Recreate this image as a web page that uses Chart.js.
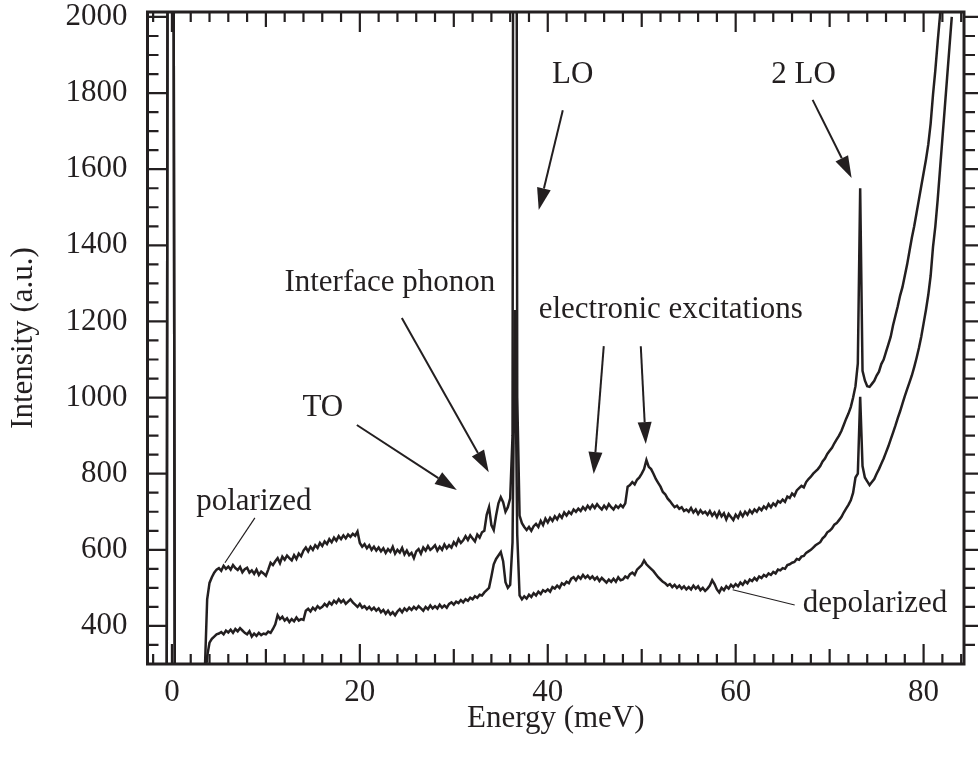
<!DOCTYPE html>
<html><head><meta charset="utf-8">
<script src="https://cdn.jsdelivr.net/npm/chart.js@4/dist/chart.umd.min.js"></script>
<style>html,body{margin:0;padding:0;background:#fff}#wrap{width:978px;height:767px}</style>
</head><body><div id="wrap"><canvas id="c" width="978" height="767"></canvas></div>
<script>
// ---- data ----
const laserEnergy = [-0.55, -0.2, 0.3];
const laserPolarized = [300, 8000, 300];
const laserDepolarized = [300, 8000, 300];

const energy = [
3.5, 3.75,
4, 4.25, 4.5, 4.75, 5, 5.25, 5.5, 5.75, 6, 6.25, 6.5, 6.75, 7, 7.25, 7.5, 7.75,
8, 8.25, 8.5, 8.75, 9, 9.25, 9.5, 9.75, 10, 10.25, 10.5, 10.75, 11, 11.25, 11.5, 11.75,
12, 12.25, 12.5, 12.75, 13, 13.25, 13.5, 13.75, 14, 14.25, 14.5, 14.75, 15, 15.25, 15.5, 15.75,
16, 16.25, 16.5, 16.75, 17, 17.25, 17.5, 17.75, 18, 18.25, 18.5, 18.75, 19, 19.25, 19.5, 19.75,
20, 20.25, 20.5, 20.75, 21, 21.25, 21.5, 21.75, 22, 22.25, 22.5, 22.75, 23, 23.25, 23.5, 23.75,
24, 24.25, 24.5, 24.75, 25, 25.25, 25.5, 25.75, 26, 26.25, 26.5, 26.75, 27, 27.25, 27.5, 27.75,
28, 28.25, 28.5, 28.75, 29, 29.25, 29.5, 29.75, 30, 30.25, 30.5, 30.75, 31, 31.25, 31.5, 31.75,
32, 32.25, 32.5, 32.75, 33, 33.25, 33.5, 33.75, 34, 34.25, 34.5, 34.75, 35, 35.25, 35.5, 35.75,
36, 36.25, 36.5, 36.75, 37, 37.25, 37.5, 37.75, 38, 38.25, 38.5, 38.75, 39, 39.25, 39.5, 39.75,
40, 40.25, 40.5, 40.75, 41, 41.25, 41.5, 41.75, 42, 42.25, 42.5, 42.75, 43, 43.25, 43.5, 43.75,
44, 44.25, 44.5, 44.75, 45, 45.25, 45.5, 45.75, 46, 46.25, 46.5, 46.75, 47, 47.25, 47.5, 47.75,
48, 48.25, 48.5, 48.75, 49, 49.25, 49.5, 49.75, 50, 50.25, 50.5, 50.75, 51, 51.25, 51.5, 51.75,
52, 52.25, 52.5, 52.75, 53, 53.25, 53.5, 53.75, 54, 54.25, 54.5, 54.75, 55, 55.25, 55.5, 55.75,
56, 56.25, 56.5, 56.75, 57, 57.25, 57.5, 57.75, 58, 58.25, 58.5, 58.75, 59, 59.25, 59.5, 59.75,
60, 60.25, 60.5, 60.75, 61, 61.25, 61.5, 61.75, 62, 62.25, 62.5, 62.75, 63, 63.25, 63.5, 63.75,
64, 64.25, 64.5, 64.75, 65, 65.25, 65.5, 65.75, 66, 66.25, 66.5, 66.75, 67, 67.25, 67.5, 67.75,
68, 68.25, 68.5, 68.75, 69, 69.25, 69.5, 69.75, 70, 70.25, 70.5, 70.75, 71, 71.25, 71.5, 71.75,
72, 72.25, 72.5, 72.75, 73, 73.25, 73.5, 73.75, 74, 74.25, 74.5, 74.75, 75, 75.25, 75.5, 75.75,
76, 76.25, 76.5, 76.75, 77, 77.25, 77.5, 77.75, 78, 78.25, 78.5, 78.75, 79, 79.25, 79.5, 79.75,
80, 80.25, 80.5, 80.75, 81, 81.25, 81.5, 81.75, 82, 82.25, 82.5, 82.75,
83
];

const polarized = [
280, 470,
513, 528, 540, 548, 552, 545, 558, 550, 556, 548, 560, 552, 547, 555, 541, 549,
553, 540, 546, 537, 548, 534, 543, 538, 532, 548, 566, 560, 570, 578, 565, 582,
574, 585, 578, 572, 586, 576, 590, 583, 598, 606, 596, 608, 600, 612, 605, 618,
610, 622, 615, 628, 620, 632, 624, 636, 628, 638, 630, 640, 634, 642, 637, 648,
618, 608, 615, 604, 612, 600, 608, 598, 606, 596, 604, 592, 602, 595, 608, 590,
600, 593, 605, 588, 598, 586, 592, 578, 596, 602, 590, 606, 598, 610, 600, 605,
612, 598, 608, 600, 614, 604, 612, 606, 620, 612, 628, 618, 625, 636, 626, 638,
630, 622, 640, 632, 646, 650, 692, 712, 665, 652, 690, 722, 738, 725, 700, 712,
735, 900, 6000, 1000, 690, 670, 660, 652, 660, 650, 662, 668, 660, 676, 665, 682,
672, 684, 676, 688, 680, 692, 684, 698, 690, 700, 694, 706, 700, 708, 702, 712,
705, 716, 708, 718, 710, 720, 712, 706, 716, 708, 720, 712, 706, 716, 710, 718,
712, 722, 766, 770, 778, 772, 784, 790, 800, 812, 836, 818, 812, 800, 786, 776,
766, 752, 746, 735, 728, 720, 712, 716, 708, 712, 702, 706, 700, 710, 698, 706,
694, 704, 696, 700, 692, 702, 690, 698, 686, 700, 688, 696, 680, 694, 686, 678,
692, 684, 698, 688, 700, 692, 704, 696, 706, 700, 710, 704, 714, 708, 720, 712,
722, 716, 728, 724, 732, 726, 740, 736, 748, 742, 756, 762, 768, 764, 778, 786,
792, 800, 806, 812, 820, 832, 840, 852, 860, 868, 880, 890, 900, 912, 928, 944,
958, 975, 1000, 1030, 1090, 1550, 1070, 1045, 1030, 1028, 1036, 1044, 1058, 1068, 1088, 1100,
1120, 1140, 1160, 1190, 1215, 1240, 1268, 1290, 1320, 1350, 1385, 1420, 1450, 1485, 1520, 1555,
1590, 1625, 1665, 1720, 1795, 1860, 1935, 2005, 2080, 2160, 2250, 2350,
2450
];

const depolarized = [
250, 320,
356, 366, 372, 378, 380, 384, 378, 388, 383, 390, 382, 392, 386, 394, 388, 382,
378, 386, 372, 380, 374, 382, 376, 380, 378, 385, 382, 392, 404, 428, 418, 424,
414, 420, 410, 418, 412, 422, 414, 418, 416, 440, 445, 438, 448, 442, 452, 446,
450, 458, 452, 462, 456, 466, 460, 470, 462, 468, 458, 464, 470, 462, 456, 450,
458, 448, 452, 444, 450, 442, 448, 440, 446, 436, 442, 432, 440, 430, 436, 428,
438, 444, 436, 446, 440, 448, 442, 450, 444, 452, 446, 440, 450, 444, 454, 446,
452, 446, 456, 448, 454, 448, 458, 462, 456, 464, 460, 468, 462, 470, 466, 474,
470, 478, 474, 482, 480, 488, 494, 500, 530, 562, 576, 585, 594, 570, 515, 500,
508, 620, 1230, 640, 480, 470, 478, 472, 482, 476, 486, 480, 490, 484, 494, 490,
496, 490, 502, 498, 506, 500, 512, 508, 516, 512, 524, 528, 520, 530, 524, 534,
526, 532, 524, 530, 522, 528, 518, 526, 520, 514, 522, 516, 524, 516, 528, 520,
522, 530, 526, 536, 540, 534, 548, 554, 560, 572, 562, 556, 550, 544, 536, 528,
522, 516, 512, 506, 510, 502, 508, 500, 506, 498, 504, 496, 502, 496, 506, 498,
504, 494, 500, 492, 498, 506, 520, 510, 496, 488, 500, 494, 504, 498, 508, 502,
510, 504, 514, 508, 518, 512, 522, 518, 526, 520, 530, 526, 534, 530, 538, 534,
542, 538, 548, 546, 552, 550, 560, 562, 566, 568, 576, 574, 582, 584, 592, 596,
600, 606, 612, 616, 620, 630, 636, 646, 650, 656, 666, 670, 678, 686, 698, 708,
718, 730, 750, 790, 800, 1002, 820, 790, 780, 770, 778, 786, 800, 812, 826, 840,
856, 872, 890, 908, 926, 946, 964, 984, 1004, 1022, 1040, 1058, 1080, 1104, 1130, 1160,
1195, 1230, 1270, 1320, 1395, 1450, 1520, 1600, 1680, 1760, 1840, 1920,
2000
];

const xTickLabels = [0, 20, 40, 60, 80];
const yTickLabels = [400, 600, 800, 1000, 1200, 1400, 1600, 1800, 2000];

// ---- annotations (anchored in data coordinates) ----
const annotationTexts = [
  {text: 'LO', x: 42.66, y: 1847, align: 'center'},
  {text: '2 LO', x: 67.23, y: 1847, align: 'center'},
  {text: 'Interface phonon', x: 23.19, y: 1301, align: 'center'},
  {text: 'TO', x: 16.06, y: 973, align: 'center'},
  {text: 'electronic excitations', x: 53.09, y: 1230, align: 'center'},
  {text: 'polarized', x: 8.72, y: 725, align: 'center'},
  {text: 'depolarized', x: 67.13, y: 457, align: 'left'}
];
const annotationArrows = [
  {from: [41.6, 1755], to: [39.04, 1493]},
  {from: [68.19, 1782], to: [72.34, 1577]},
  {from: [24.47, 1209], to: [33.72, 804]},
  {from: [19.68, 928], to: [30.32, 757]},
  {from: [45.96, 1135], to: [44.89, 799]},
  {from: [49.9, 1135], to: [50.43, 878]}
];
const annotationLeaders = [
  {from: [8.83, 684], to: [5.64, 566]},
  {from: [66.28, 455], to: [59.68, 495]}
];

const ink = '#231f20';
const serif = '"Liberation Serif", "Times New Roman", serif';

function points(xs, ys) { return xs.map((v, i) => ({x: v, y: ys[i]})); }

const decorations = {
  id: 'decorations',
  afterDatasetsDraw(chart) {
    const {ctx, chartArea: a, scales: {x, y}} = chart;
    ctx.save();
    ctx.strokeStyle = ink; ctx.fillStyle = ink;
    ctx.lineWidth = 2.2; ctx.lineCap = 'butt';
    ctx.beginPath();
    for (let v = -2; v <= 84; v += 2) {
      const px = x.getPixelForValue(v);
      if (px < a.left + 2 || px > a.right - 2) continue;
      const len = v % 20 === 0 ? 20 : (v % 10 === 0 ? 15 : 10);
      ctx.moveTo(px, a.bottom); ctx.lineTo(px, a.bottom - len);
      ctx.moveTo(px, a.top); ctx.lineTo(px, a.top + len);
    }
    for (let v = 350; v <= 2000; v += 50) {
      const py = y.getPixelForValue(v);
      const len = v % 200 === 0 ? 20 : 11;
      ctx.moveTo(a.left, py); ctx.lineTo(a.left + len, py);
      ctx.moveTo(a.right, py); ctx.lineTo(a.right + len, py);
    }
    ctx.stroke();
    ctx.lineWidth = 3;
    ctx.strokeRect(a.left, a.top, a.right - a.left, a.bottom - a.top);

    // arrows
    ctx.lineWidth = 2;
    annotationArrows.forEach(ar => {
      const x0 = x.getPixelForValue(ar.from[0]), y0 = y.getPixelForValue(ar.from[1]);
      const x1 = x.getPixelForValue(ar.to[0]), y1 = y.getPixelForValue(ar.to[1]);
      const ang = Math.atan2(y1 - y0, x1 - x0);
      const hl = 22, hw = 7;
      const bx = x1 - hl * Math.cos(ang), by = y1 - hl * Math.sin(ang);
      ctx.beginPath(); ctx.moveTo(x0, y0); ctx.lineTo(bx, by); ctx.stroke();
      ctx.beginPath();
      ctx.moveTo(x1, y1);
      ctx.lineTo(bx + hw * Math.sin(ang), by - hw * Math.cos(ang));
      ctx.lineTo(bx - hw * Math.sin(ang), by + hw * Math.cos(ang));
      ctx.closePath(); ctx.fill();
    });
    ctx.lineWidth = 1.2;
    annotationLeaders.forEach(l => {
      ctx.beginPath();
      ctx.moveTo(x.getPixelForValue(l.from[0]), y.getPixelForValue(l.from[1]));
      ctx.lineTo(x.getPixelForValue(l.to[0]), y.getPixelForValue(l.to[1]));
      ctx.stroke();
    });
    ctx.font = '31px ' + serif;
    ctx.textBaseline = 'middle';
    annotationTexts.forEach(t => {
      ctx.textAlign = t.align;
      ctx.fillText(t.text, x.getPixelForValue(t.x), y.getPixelForValue(t.y));
    });
    ctx.restore();
  }
};

const tickFont = {family: serif, size: 31};

new Chart(document.getElementById('c'), {
  type: 'line',
  data: {
    datasets: [
      {label: 'polarized', data: points(laserEnergy, laserPolarized).concat([{x: 1.5, y: null}], points(energy, polarized))},
      {label: 'depolarized', data: points(laserEnergy, laserDepolarized).concat([{x: 1.5, y: null}], points(energy, depolarized))}
    ]
  },
  options: {
    responsive: false, animation: false, devicePixelRatio: 1,
    layout: {padding: {top: 12, right: 14, left: 0, bottom: 0}},
    plugins: {legend: {display: false}, tooltip: {enabled: false}},
    datasets: {line: {clip: 0, spanGaps: false}},
    elements: {point: {radius: 0}, line: {tension: 0, borderWidth: 2.5, borderColor: ink, borderJoinStyle: 'miter'}},
    scales: {
      x: {
        type: 'linear', min: -2.6, max: 84.3,
        grid: {display: false, drawTicks: false}, border: {display: false},
        afterBuildTicks: s => { s.ticks = xTickLabels.map(v => ({value: v})); },
        afterFit: s => { s.height = 103; s.paddingLeft = 0; s.paddingRight = 0; },
        ticks: {font: tickFont, color: ink, padding: 10, maxRotation: 0, autoSkip: false, callback: v => String(v)},
        title: {display: true, text: 'Energy (meV)', font: tickFont, color: ink, padding: {top: 0, bottom: 30}}
      },
      y: {
        type: 'linear', min: 300, max: 2013,
        grid: {display: false, drawTicks: false}, border: {display: false},
        afterBuildTicks: s => { s.ticks = yTickLabels.map(v => ({value: v})); },
        afterFit: s => { s.width = 147.5; s.paddingTop = 0; s.paddingBottom = 0; },
        ticks: {font: tickFont, color: ink, padding: 20, autoSkip: false, callback: v => String(v)},
        title: {display: true, text: 'Intensity (a.u.)', font: tickFont, color: ink, padding: {top: 5, bottom: 0}}
      }
    }
  },
  plugins: [decorations]
});
</script>
</body></html>
